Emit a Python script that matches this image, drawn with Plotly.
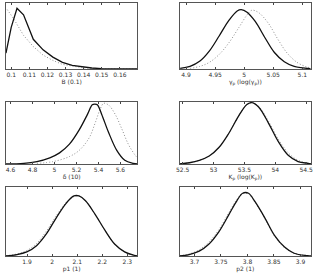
import plotly.graph_objects as go

# Panel 1: B (0.1)
b_x_solid = [0.0971, 0.1, 0.1032, 0.1068, 0.1122, 0.1176, 0.1230, 0.1283, 0.1337, 0.1391, 0.1445, 0.1498, 0.1560, 0.1697]
b_y_solid = [0.24, 0.63, 0.92, 0.82, 0.45, 0.29, 0.18, 0.10, 0.054, 0.03, 0.015, 0.005, 0.0, 0.0]
b_x_dot = [0.0978, 0.1014, 0.1068, 0.1122, 0.1176, 0.1230, 0.1283, 0.1337, 0.1391, 0.1445, 0.1520, 0.1697]
b_y_dot = [0.90, 0.76, 0.51, 0.34, 0.21, 0.13, 0.07, 0.04, 0.02, 0.01, 0.0, 0.0]

# Panel 2: gamma_p
g_x_solid = [4.890, 4.907, 4.924, 4.940, 4.957, 4.974, 4.988, 4.995, 5.005, 5.019, 5.036, 5.052, 5.069, 5.086, 5.114]
g_y_solid = [0.01, 0.04, 0.12, 0.27, 0.50, 0.74, 0.88, 0.90, 0.86, 0.72, 0.47, 0.25, 0.11, 0.04, 0.005]
g_x_dot = [4.907, 4.924, 4.940, 4.957, 4.974, 4.991, 5.005, 5.013, 5.024, 5.041, 5.058, 5.074, 5.091, 5.108, 5.114]
g_y_dot = [0.01, 0.04, 0.10, 0.22, 0.40, 0.63, 0.82, 0.89, 0.86, 0.70, 0.45, 0.24, 0.10, 0.03, 0.02]

# Panel 3: delta
d_x_solid = [4.558, 4.72, 4.84, 4.957, 5.046, 5.136, 5.225, 5.30, 5.344, 5.368, 5.39, 5.43, 5.49, 5.567, 5.64, 5.717, 5.755]
d_y_solid = [0.0, 0.01, 0.04, 0.10, 0.18, 0.32, 0.55, 0.80, 0.955, 0.965, 0.955, 0.80, 0.52, 0.22, 0.06, 0.01, 0.0]
d_x_dot = [4.84, 4.99, 5.136, 5.225, 5.315, 5.374, 5.419, 5.449, 5.493, 5.553, 5.612, 5.672, 5.731, 5.755]
d_y_dot = [0.01, 0.04, 0.12, 0.22, 0.42, 0.68, 0.90, 0.98, 0.95, 0.80, 0.57, 0.32, 0.15, 0.10]

# Panel 4: K_p
k_x_solid = [52.45, 52.61, 52.77, 52.93, 53.09, 53.25, 53.41, 53.54, 53.62, 53.73, 53.89, 54.05, 54.21, 54.37, 54.53, 54.58]
k_y_solid = [0.0, 0.02, 0.06, 0.13, 0.27, 0.50, 0.78, 0.96, 0.99, 0.92, 0.66, 0.36, 0.14, 0.04, 0.01, 0.0]
k_x_dot = [52.45, 52.61, 52.77, 52.93, 53.09, 53.25, 53.41, 53.54, 53.62, 53.73, 53.89, 54.05, 54.21, 54.37, 54.53, 54.58]
k_y_dot = [0.0, 0.02, 0.06, 0.13, 0.27, 0.50, 0.78, 0.96, 0.99, 0.93, 0.69, 0.40, 0.18, 0.06, 0.015, 0.005]

# Panel 5: p1
p1_x_solid = [1.816, 1.860, 1.899, 1.938, 1.977, 2.016, 2.055, 2.087, 2.107, 2.133, 2.172, 2.211, 2.250, 2.289, 2.327, 2.340]
p1_y_solid = [0.0, 0.02, 0.06, 0.15, 0.32, 0.55, 0.76, 0.87, 0.87, 0.80, 0.60, 0.37, 0.17, 0.06, 0.01, 0.0]
p1_x_dot = [1.816, 1.860, 1.899, 1.938, 1.977, 2.016, 2.055, 2.087, 2.107, 2.133, 2.172, 2.211, 2.250, 2.289, 2.327, 2.340]
p1_y_dot = [0.005, 0.03, 0.08, 0.18, 0.36, 0.58, 0.77, 0.86, 0.87, 0.80, 0.60, 0.37, 0.17, 0.06, 0.01, 0.0]

# Panel 6: p2
p2_x_solid = [3.672, 3.690, 3.709, 3.727, 3.746, 3.765, 3.780, 3.791, 3.802, 3.814, 3.833, 3.851, 3.870, 3.888, 3.913, 3.920]
p2_y_solid = [0.0, 0.02, 0.07, 0.17, 0.35, 0.60, 0.80, 0.91, 0.91, 0.79, 0.55, 0.30, 0.13, 0.04, 0.005, 0.0]
p2_x_dot = [3.672, 3.690, 3.709, 3.727, 3.746, 3.765, 3.780, 3.791, 3.802, 3.814, 3.833, 3.851, 3.870, 3.888, 3.913, 3.920]
p2_y_dot = [0.005, 0.03, 0.09, 0.20, 0.38, 0.63, 0.82, 0.91, 0.90, 0.78, 0.54, 0.29, 0.12, 0.04, 0.005, 0.0]

titles = ["B (0.1)", "γ<sub>p</sub> (log(γ<sub>p</sub>))", "δ (10)",
          "K<sub>p</sub> (log(K<sub>p</sub>))", "p1 (1)", "p2 (1)"]
xranges = [[0.0971, 0.1697], [4.889, 5.115], [4.558, 5.755],
           [52.45, 54.58], [1.816, 2.340], [3.672, 3.920]]
tickvals = [[0.1, 0.11, 0.12, 0.13, 0.14, 0.15, 0.16],
            [4.9, 4.95, 5, 5.05, 5.1],
            [4.6, 4.8, 5, 5.2, 5.4, 5.6],
            [52.5, 53, 53.5, 54, 54.5],
            [1.9, 2, 2.1, 2.2, 2.3],
            [3.7, 3.75, 3.8, 3.85, 3.9]]
ticktext = [["0.1", "0.11", "0.12", "0.13", "0.14", "0.15", "0.16"],
            ["4.9", "4.95", "5", "5.05", "5.1"],
            ["4.6", "4.8", "5", "5.2", "5.4", "5.6"],
            ["52.5", "53", "53.5", "54", "54.5"],
            ["1.9", "2", "2.1", "2.2", "2.3"],
            ["3.7", "3.75", "3.8", "3.85", "3.9"]]

series = [
    (b_x_solid, b_y_solid, b_x_dot, b_y_dot, "linear"),
    (g_x_solid, g_y_solid, g_x_dot, g_y_dot, "spline"),
    (d_x_solid, d_y_solid, d_x_dot, d_y_dot, "spline"),
    (k_x_solid, k_y_solid, k_x_dot, k_y_dot, "spline"),
    (p1_x_solid, p1_y_solid, p1_x_dot, p1_y_dot, "spline"),
    (p2_x_solid, p2_y_solid, p2_x_dot, p2_y_dot, "spline"),
]

W, H = 316, 273
xdoms = [[2 / W, 136 / W], [179 / W, 313 / W]]
ydoms = [[1 - 69 / H, 1 - 3 / H], [1 - 164 / H, 1 - 102 / H], [1 - 256 / H, 1 - 187 / H]]

fig = go.Figure()
layout = {}
for i, (xs, ys, xd, yd, shape) in enumerate(series):
    n = i + 1
    xa = "x" if n == 1 else f"x{n}"
    ya = "y" if n == 1 else f"y{n}"
    fig.add_trace(go.Scatter(x=xd, y=yd, mode="lines", xaxis=xa, yaxis=ya,
                             line=dict(color="#8c8c8c", width=1, dash="1px,2px", shape=shape),
                             showlegend=False, hoverinfo="skip"))
    fig.add_trace(go.Scatter(x=xs, y=ys, mode="lines", xaxis=xa, yaxis=ya,
                             line=dict(color="#111111", width=1.3, shape=shape),
                             showlegend=False, hoverinfo="skip"))
    row, col = i // 2, i % 2
    layout[f"xaxis{'' if n == 1 else n}"] = dict(
        domain=xdoms[col], anchor=ya, range=xranges[i],
        tickvals=tickvals[i], ticktext=ticktext[i],
        ticks="inside", ticklen=2, tickcolor="#444", mirror="ticks",
        showline=True, linecolor="#555", linewidth=1, showgrid=False, zeroline=False,
        tickfont=dict(size=6, color="#333", family="DejaVu Sans"),
        title=dict(text=titles[i], font=dict(size=6, color="#333", family="DejaVu Sans"), standoff=0),
    )
    layout[f"yaxis{'' if n == 1 else n}"] = dict(
        domain=ydoms[row], anchor=xa, range=[0, 1.0],
        showticklabels=False, ticks="", showline=True, mirror=True,
        linecolor="#555", linewidth=1, showgrid=False, zeroline=False,
    )

fig.update_layout(width=W, height=H, margin=dict(l=0, r=0, t=0, b=0),
                  plot_bgcolor="white", paper_bgcolor="white", **layout)
fig.write_html("out.html", config={"displayModeBar": False, "staticPlot": True},
               post_script="document.body.style.margin='0px';document.body.style.padding='0px';")
